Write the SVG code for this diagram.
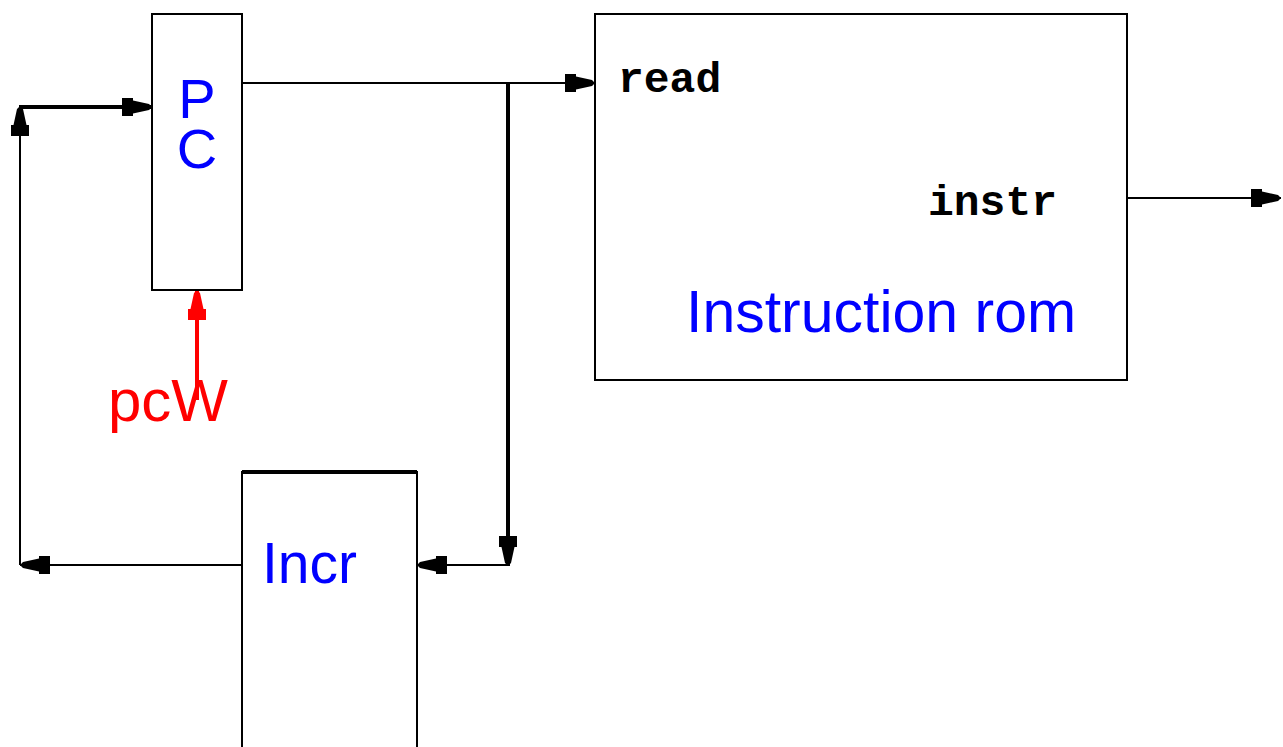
<svg xmlns="http://www.w3.org/2000/svg" width="1283" height="747" viewBox="0 0 1283 747">
<style>
.box{fill:#fff;stroke:#000;stroke-width:2}
.w{fill:none;stroke:#000;stroke-width:2}
.wt{fill:none;stroke:#000;stroke-width:4}
.lbl{font-family:"Liberation Sans",Arial,sans-serif;fill:#0000ff}
.mono{font-family:"Liberation Mono","Courier New",monospace;font-weight:bold;fill:#000}
</style>
<defs>
<marker id="ah" markerUnits="userSpaceOnUse" markerWidth="30" markerHeight="20" viewBox="0 -10 30 20" refX="30" refY="0" orient="auto">
<path d="M0,-9 L11,-9 L11,-6.5 L27,-3 L30,0 L27,3 L11,6.5 L11,9 L0,9 Z" fill="#000"/>
</marker>
<marker id="ahr" markerUnits="userSpaceOnUse" markerWidth="30" markerHeight="20" viewBox="0 -10 30 20" refX="30" refY="0" orient="auto">
<path d="M0,-9 L11,-9 L11,-6.5 L27,-3 L30,0 L27,3 L11,6.5 L11,9 L0,9 Z" fill="#ff0000"/>
</marker>
</defs>
<g id="connectors">
<line class="w" x1="242" y1="83" x2="595" y2="83" marker-end="url(#ah)"/>
<polyline class="wt" points="508,83 508,566" marker-end="url(#ah)"/>
<line class="w" x1="508" y1="565" x2="417" y2="565" marker-end="url(#ah)"/>
<line class="w" x1="242" y1="565" x2="20" y2="565" marker-end="url(#ah)"/>
<line class="w" x1="20" y1="565" x2="20" y2="106" marker-end="url(#ah)"/>
<line class="wt" x1="19" y1="107" x2="152" y2="107" marker-end="url(#ah)"/>
<line x1="197" y1="400" x2="197" y2="290" stroke="#ff0000" stroke-width="4" marker-end="url(#ahr)"/>
<line class="w" x1="1127" y1="198" x2="1281" y2="198" marker-end="url(#ah)"/>
</g>
<g id="pc">
<rect class="box" x="152" y="14" width="90" height="276"/>
<text class="lbl" font-size="56" text-anchor="middle"><tspan x="197" y="118">P</tspan><tspan x="197" y="168">C</tspan></text>
</g>
<g id="pcw">
<text x="168" y="421" font-family="Liberation Sans, Arial, sans-serif" font-size="60" fill="#ff0000" text-anchor="middle">pcW</text>
</g>
<g id="rom">
<rect class="box" x="595" y="14" width="532" height="366"/>
<text class="mono" font-size="43" x="618" y="92">read</text>
<text class="mono" font-size="43" x="928" y="215">instr</text>
<text class="lbl" font-size="59" x="686" y="332">Instruction rom</text>
</g>
<g id="incr">
<rect class="box" x="242" y="472" width="175" height="276"/>
<line x1="242" y1="472" x2="417" y2="472" stroke="#000" stroke-width="4"/>
<text class="lbl" font-size="57" x="262" y="583">Incr</text>
</g>
</svg>
